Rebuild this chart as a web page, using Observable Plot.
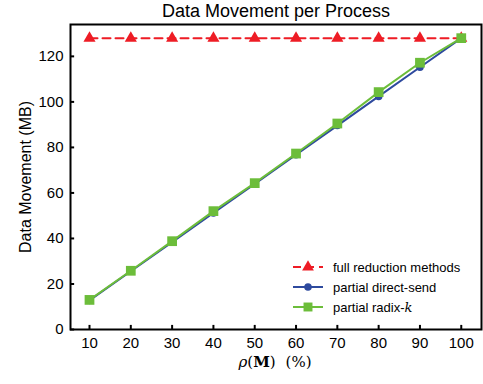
<!DOCTYPE html>
<html><head><meta charset="utf-8">
<script src="https://cdn.jsdelivr.net/npm/d3@7"></script>
<script src="https://cdn.jsdelivr.net/npm/@observablehq/plot@0.6"></script>
<style>body{margin:0;background:#fff;} svg{font-family:"Liberation Sans",Arial,sans-serif;}</style>
</head><body><div id="chart"></div>
<script>
const rho = [10, 20, 30, 40, 50, 60, 70, 80, 90, 100];
const fullReduction = [128, 128, 128, 128, 128, 128, 128, 128, 128, 128];
const directSend = [12.8, 25.6, 38.4, 51.2, 64, 76.8, 89.6, 102.4, 115.2, 128];
const radixK = [13, 25.8, 38.8, 52, 64.3, 77.3, 90.5, 104.3, 117.2, 128];
const yTicks = [0, 20, 40, 60, 80, 100, 120];
const seriesNames = ["full reduction methods", "partial direct-send", "partial radix-k"];
const colors = ["#ee1c25", "#2e4a9e", "#6cbd3a"];

const rows = (vals, s) => rho.map((x, i) => ({x, y: vals[i], s}));
const full = rows(fullReduction, seriesNames[0]);
const ds = rows(directSend, seriesNames[1]);
const rk = rows(radixK, seriesNames[2]);

const xDom = [5.4, 104.9], yDom = [0, 134];
const chart = Plot.plot({
  width: 483, height: 384,
  marginTop: 24, marginLeft: 70, marginRight: 2, marginBottom: 55,
  x: {domain: xDom, ticks: rho, tickSize: 0, tickPadding: 8, label: null},
  y: {domain: yDom, ticks: yTicks, tickSize: 0, tickPadding: 7, label: null},
  style: {fontSize: "15px", fontFamily: "Liberation Sans, Arial, sans-serif", color: "#000"},
  marks: [
    Plot.ruleX(rho, {x: d => d, y1: 0, y2: 1.8, stroke: "black", strokeWidth: 2}),
    Plot.ruleY(yTicks, {y: d => d, x1: xDom[0], x2: xDom[0] + 1.0, stroke: "black", strokeWidth: 2}),
    Plot.line(full, {x: "x", y: "y", stroke: colors[0], strokeWidth: 2, strokeDasharray: "8,5"}),
    Plot.dot(full, {x: "x", y: "y", symbol: "triangle", fill: colors[0], r: 4.5}),
    Plot.line(ds, {x: "x", y: "y", stroke: colors[1], strokeWidth: 2}),
    Plot.dot(ds, {x: "x", y: "y", symbol: "circle", fill: colors[1], r: 3.8}),
    Plot.line(rk, {x: "x", y: "y", stroke: colors[2], strokeWidth: 2}),
    Plot.dot(rk, {x: "x", y: "y", symbol: "square", fill: colors[2], r: 5.5}),
    Plot.frame({stroke: "black", strokeWidth: 2}),
    Plot.text(["Data Movement per Process"], {frameAnchor: "top", dy: -20, fontSize: 18, fill: "black"}),
    Plot.text(["Data Movement (MB)"], {frameAnchor: "left", dx: -45, rotate: -90, textAnchor: "middle", lineAnchor: "middle", fontSize: 16, fill: "black"})
  ]
});
document.getElementById("chart").appendChild(chart);

// x-axis label with math styling
const svg = d3.select(chart);
const lbl = svg.append("text").attr("x", 275).attr("y", 367).attr("text-anchor", "middle")
  .attr("font-family", "DejaVu Serif, Liberation Serif, serif").attr("font-size", 15).attr("fill", "black");
lbl.append("tspan").attr("font-style", "italic").text("ρ");
lbl.append("tspan").text("(");
lbl.append("tspan").attr("font-weight", "bold").text("M");
lbl.append("tspan").text(")");
lbl.append("tspan").attr("dx", 10).text("(%)");

// legend
const lg = svg.append("g").attr("transform", "translate(293,267)").attr("text-anchor", "start");
const sym = [d3.symbolTriangle, d3.symbolCircle, d3.symbolSquare];
const symSize = [60, 45, 80];
seriesNames.forEach((name, i) => {
  const g = lg.append("g").attr("transform", `translate(0,${i * 20})`);
  g.append("line").attr("x1", 0).attr("x2", 30).attr("stroke", colors[i]).attr("stroke-width", 2)
    .attr("stroke-dasharray", i === 0 ? "8,5" : null);
  g.append("path").attr("d", d3.symbol(sym[i], symSize[i])()).attr("transform", "translate(15,0)").attr("fill", colors[i]);
  const t = g.append("text").attr("x", 40).attr("dy", "0.35em").attr("font-size", 13).attr("fill", "black").attr("text-anchor", "start");
  if (i === 2) { t.append("tspan").text("partial radix-"); t.append("tspan").attr("font-style", "italic").attr("font-family", "DejaVu Serif, serif").text("k"); }
  else t.text(name);
});
</script></body></html>
